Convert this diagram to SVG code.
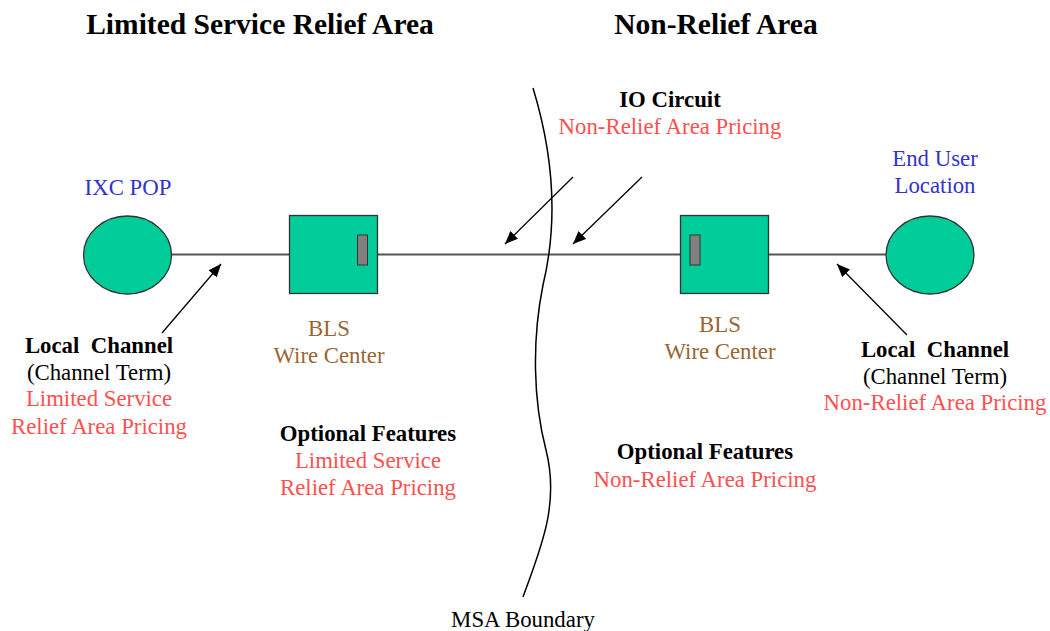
<svg xmlns="http://www.w3.org/2000/svg" width="1050" height="631" viewBox="0 0 1050 631">
<defs>
<marker id="ah" viewBox="0 0 13 11" refX="13" refY="5.5" markerWidth="13" markerHeight="11" markerUnits="userSpaceOnUse" orient="auto"><path d="M0,0 L13,5.5 L0,11 z" fill="#000"/></marker>
<style>
text{font-family:"Liberation Serif","Times New Roman",serif;font-size:22.8px;text-anchor:middle}
.t{font-size:29.5px;font-weight:bold}
.b{font-weight:bold}
.r{fill:#ff5050}
.bl{fill:#3333cc}
.br{fill:#996633}
.n{fill:#00cc99;stroke:#333;stroke-width:1.3}
.p{fill:#808080;stroke:#333;stroke-width:1}
.ln{stroke:#555;stroke-width:2;fill:none}
.ar{stroke:#000;stroke-width:1.3;fill:none;marker-end:url(#ah)}
</style>
</defs>
<rect width="1050" height="631" fill="#fff"/>
<g id="connectors">
<line class="ln" x1="171" y1="254.5" x2="290" y2="254.5"/>
<line class="ln" x1="377" y1="254.5" x2="681" y2="254.5"/>
<line class="ln" x1="768" y1="254.5" x2="886" y2="254.5"/>
<line class="ar" x1="162" y1="333" x2="221" y2="264"/>
<line class="ar" x1="907" y1="335" x2="837" y2="264"/>
<line class="ar" x1="573" y1="177" x2="505" y2="244"/>
<line class="ar" x1="642" y1="177" x2="573" y2="244"/>
<path d="M533,88 C558,170 555,235 543,285 C532,340 533,400 546,450 C560,505 540,550 523,597" stroke="#000" stroke-width="1.5" fill="none"/>
</g>
<g id="titles">
<text class="t" x="260" y="34">Limited Service Relief Area</text>
<text class="t" x="716" y="34">Non-Relief Area</text>
</g>
<g id="ixc-pop">
<ellipse class="n" cx="127.5" cy="255" rx="44" ry="39"/>
<text class="bl" x="128" y="195">IXC POP</text>
</g>
<g id="end-user">
<ellipse class="n" cx="930" cy="255" rx="44" ry="39"/>
<text class="bl" x="935" y="166">End User</text>
<text class="bl" x="935" y="193">Location</text>
</g>
<g id="bls-left">
<rect class="n" x="289.5" y="215.5" width="88" height="78"/>
<rect class="p" x="357.5" y="235" width="10" height="30"/>
<text class="br" x="329" y="336">BLS</text>
<text class="br" x="329" y="363">Wire Center</text>
</g>
<g id="bls-right">
<rect class="n" x="680.5" y="215.5" width="88" height="78"/>
<rect class="p" x="690" y="235" width="10" height="30"/>
<text class="br" x="720" y="332">BLS</text>
<text class="br" x="720" y="359">Wire Center</text>
</g>
<g id="io-circuit">
<text class="b" x="670" y="107">IO Circuit</text>
<text class="r" x="670" y="134">Non-Relief Area Pricing</text>
</g>
<g id="local-channel-left">
<text class="b" x="99" y="353" xml:space="preserve">Local  Channel</text>
<text x="99" y="380">(Channel Term)</text>
<text class="r" x="99" y="406">Limited Service</text>
<text class="r" x="99" y="434">Relief Area Pricing</text>
</g>
<g id="local-channel-right">
<text class="b" x="935" y="357" xml:space="preserve">Local  Channel</text>
<text x="935" y="384">(Channel Term)</text>
<text class="r" x="935" y="410">Non-Relief Area Pricing</text>
</g>
<g id="optional-left">
<text class="b" x="368" y="441">Optional Features</text>
<text class="r" x="368" y="468">Limited Service</text>
<text class="r" x="368" y="495">Relief Area Pricing</text>
</g>
<g id="optional-right">
<text class="b" x="705" y="459">Optional Features</text>
<text class="r" x="705" y="487">Non-Relief Area Pricing</text>
</g>
<g id="msa">
<text x="523" y="627">MSA Boundary</text>
</g>
</svg>
